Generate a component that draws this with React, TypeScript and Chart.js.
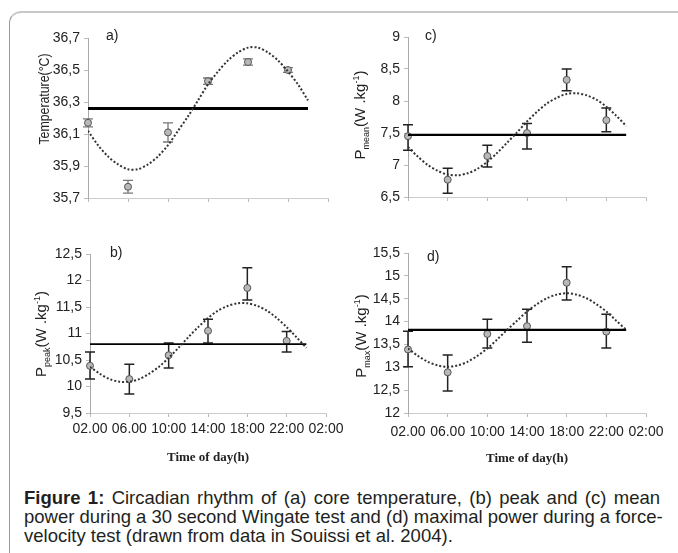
import React, { useEffect, useRef } from 'react';
import { Chart, registerables } from 'chart.js';

Chart.register(...registerables);

const SANS = '"Liberation Sans", Arial, sans-serif';
const SERIF = '"Liberation Serif", "Times New Roman", serif';

// ---------- shared x data ----------
const HOURS = [2, 6, 10, 14, 18, 22];
const X_TICKS = [2, 6, 10, 14, 18, 22, 26];
const X_TICK_LABELS = ['02.00', '06.00', '10:00', '14:00', '18:00', '22:00', '02:00'];
const FIT_HOURS = [2, 3, 4, 5, 6, 7, 8, 9, 10, 11, 12, 13, 14, 15, 16, 17, 18, 19, 20, 21, 22, 23, 24];
const MESOR_HOURS = [2, 24];

// ---------- a) core temperature ----------
const tempValues = [36.17, 35.77, 36.11, 36.43, 36.55, 36.5];
const tempErrUp = [0.025, 0.04, 0.06, 0.02, 0.02, 0.015];
const tempErrDown = [0.025, 0.04, 0.06, 0.02, 0.02, 0.015];
const tempMesor = 36.26;
const tempFit = [36.12, 36.03, 35.96, 35.91, 35.88, 35.88, 35.91, 35.96, 36.03, 36.12, 36.21, 36.31, 36.41, 36.49, 36.56, 36.61, 36.64, 36.64, 36.61, 36.56, 36.49, 36.41, 36.31];
const tempTicks = [35.7, 35.9, 36.1, 36.3, 36.5, 36.7];

// ---------- b) peak power ----------
const peakValues = [10.39, 10.14, 10.59, 11.05, 11.86, 10.86];
const peakErrUp = [0.26, 0.28, 0.23, 0.22, 0.38, 0.18];
const peakErrDown = [0.25, 0.28, 0.24, 0.23, 0.23, 0.21];
const peakMesor = 10.8;
const peakFit = [10.37, 10.24, 10.14, 10.09, 10.09, 10.14, 10.24, 10.37, 10.54, 10.73, 10.93, 11.12, 11.29, 11.43, 11.52, 11.57, 11.57, 11.52, 11.43, 11.29, 11.12, 10.93, 10.73];
const peakTicks = [9.5, 10, 10.5, 11, 11.5, 12, 12.5];

// ---------- c) mean power ----------
const meanValues = [7.45, 6.77, 7.14, 7.5, 8.33, 7.7];
const meanErrUp = [0.18, 0.18, 0.17, 0.15, 0.17, 0.19];
const meanErrDown = [0.22, 0.21, 0.17, 0.25, 0.17, 0.18];
const meanMesor = 7.47;
const meanFit = [7.28, 7.13, 7.0, 6.91, 6.85, 6.84, 6.87, 6.94, 7.05, 7.19, 7.35, 7.51, 7.68, 7.83, 7.96, 8.05, 8.11, 8.12, 8.09, 8.02, 7.91, 7.77, 7.61];
const meanTicks = [6.5, 7, 7.5, 8, 8.5, 9];

// ---------- d) maximal power ----------
const maxValues = [13.39, 12.89, 13.73, 13.9, 14.85, 13.78];
const maxErrUp = [0.4, 0.38, 0.32, 0.37, 0.35, 0.38];
const maxErrDown = [0.38, 0.41, 0.31, 0.35, 0.38, 0.36];
const maxMesor = 13.82;
const maxFit = [13.41, 13.25, 13.12, 13.04, 13.01, 13.04, 13.12, 13.25, 13.41, 13.61, 13.82, 14.02, 14.22, 14.38, 14.51, 14.59, 14.62, 14.59, 14.51, 14.38, 14.22, 14.02, 13.82];
const maxTicks = [12, 12.5, 13, 13.5, 14, 14.5, 15, 15.5];

type Seg = { text: string; size: number; dy: number };

type PanelSpec = {
  box: { left: number; top: number; width: number; height: number };
  area: { left: number; right: number; top: number; bottom: number };
  values: number[];
  errUp: number[];
  errDown: number[];
  mesor: number;
  fit: number[];
  ticks: number[];
  showX: boolean;
  xLabelPad: number;
  titlePadBottom: number;
  mesorWidth: number;
  errColor: string;
  errWidth: number;
  letter: string;
  letterPos: [number, number];
  yTitle: Seg[];
  yTitlePos: [number, number];
  yTitleStretch: number;
};

function drawRich(ctx: CanvasRenderingContext2D, segs: Seg[], cx: number, cy: number, stretch: number) {
  ctx.save();
  ctx.translate(cx, cy);
  ctx.rotate(-Math.PI / 2);
  ctx.scale(stretch, 1);
  let total = 0;
  segs.forEach((s) => {
    ctx.font = `${s.size}px ${SANS}`;
    total += ctx.measureText(s.text).width;
  });
  let x = -total / 2;
  ctx.textBaseline = 'alphabetic';
  ctx.textAlign = 'left';
  ctx.fillStyle = '#222';
  segs.forEach((s) => {
    ctx.font = `${s.size}px ${SANS}`;
    ctx.fillText(s.text, x, 5 + s.dy);
    x += ctx.measureText(s.text).width;
  });
  ctx.restore();
}

function Panel({ spec }: { spec: PanelSpec }) {
  const ref = useRef<HTMLCanvasElement | null>(null);
  useEffect(() => {
    const s = spec;
    const { box, area } = s;
    const pts = HOURS.map((h, i) => ({ x: h, y: s.values[i] }));
    const extras = {
      id: 'extras',
      beforeDatasetsDraw(chart: any) {
        const ctx = chart.ctx as CanvasRenderingContext2D;
        const xs = chart.scales.x;
        const ys = chart.scales.y;
        ctx.save();
        ctx.strokeStyle = s.errColor;
        ctx.lineWidth = s.errWidth;
        HOURS.forEach((h, i) => {
          const px = xs.getPixelForValue(h);
          const yt = ys.getPixelForValue(s.values[i] + s.errUp[i]);
          const yb = ys.getPixelForValue(s.values[i] - s.errDown[i]);
          ctx.beginPath();
          ctx.moveTo(px, yt);
          ctx.lineTo(px, yb);
          ctx.moveTo(px - 5, yt);
          ctx.lineTo(px + 5, yt);
          ctx.moveTo(px - 5, yb);
          ctx.lineTo(px + 5, yb);
          ctx.stroke();
        });
        ctx.restore();
      },
      afterDraw(chart: any) {
        const ctx = chart.ctx as CanvasRenderingContext2D;
        ctx.save();
        ctx.font = `14px ${SANS}`;
        ctx.fillStyle = '#222';
        ctx.textBaseline = 'middle';
        ctx.textAlign = 'left';
        ctx.fillText(s.letter, s.letterPos[0] - box.left, s.letterPos[1] - box.top);
        ctx.restore();
        drawRich(ctx, s.yTitle, s.yTitlePos[0] - box.left, s.yTitlePos[1] - box.top, s.yTitleStretch);
      },
    };
    const chart = new Chart(ref.current as HTMLCanvasElement, {
      type: 'line',
      data: {
        datasets: [
          {
            data: FIT_HOURS.map((h, i) => ({ x: h, y: s.fit[i] })),
            borderColor: '#333',
            borderWidth: 2,
            borderDash: [2, 2],
            pointRadius: 0,
            tension: 0.3,
          },
          {
            data: MESOR_HOURS.map((h) => ({ x: h, y: s.mesor })),
            borderColor: '#000',
            borderWidth: s.mesorWidth,
            pointRadius: 0,
          },
          {
            data: pts,
            showLine: false,
            pointStyle: 'circle',
            pointRadius: 3.5,
            backgroundColor: '#b8b8b8',
            borderColor: '#555',
            borderWidth: 1,
            clip: false,
          },
          {
            data: pts,
            showLine: false,
            pointStyle: 'star',
            pointRadius: 3,
            borderColor: '#555',
            borderWidth: 1,
            clip: false,
          },
        ],
      } as any,
      options: {
        animation: false,
        responsive: false,
        maintainAspectRatio: false,
        layout: { padding: { left: 0, top: area.top, right: box.width - area.right, bottom: 0 } },
        plugins: { legend: { display: false }, tooltip: { enabled: false } },
        scales: {
          x: {
            type: 'linear',
            min: 2,
            max: 26,
            afterBuildTicks: (sc: any) => {
              sc.ticks = X_TICKS.map((v) => ({ value: v }));
            },
            afterFit: (sc: any) => {
              sc.height = box.height - area.bottom;
            },
            grid: { display: true, drawOnChartArea: false, drawTicks: true, tickLength: 4, color: '#bbb' },
            border: { display: true, color: '#ccc', width: 1 },
            ticks: {
              display: s.showX,
              padding: s.xLabelPad,
              autoSkip: false,
              maxRotation: 0,
              color: '#222',
              font: { family: SANS, size: 14 },
              callback: (v: any) => X_TICK_LABELS[X_TICKS.indexOf(Number(v))],
            },
            title: {
              display: s.showX,
              text: 'Time of day(h)',
              color: '#222',
              font: { family: SERIF, size: 13, weight: 'bold' },
              padding: { top: 0, bottom: s.titlePadBottom },
            },
          },
          y: {
            type: 'linear',
            min: s.ticks[0],
            max: s.ticks[s.ticks.length - 1],
            afterBuildTicks: (sc: any) => {
              sc.ticks = s.ticks.map((v) => ({ value: v }));
            },
            afterFit: (sc: any) => {
              sc.width = area.left;
            },
            grid: { display: true, drawOnChartArea: false, drawTicks: true, tickLength: 4, color: '#bbb' },
            border: { display: true, color: '#aaa', width: 1 },
            ticks: {
              padding: 4,
              color: '#222',
              font: { family: SANS, size: 14 },
              callback: (v: any) => String(v).replace('.', ','),
            },
          },
        },
      } as any,
      plugins: [extras],
    });
    return () => chart.destroy();
  }, [spec]);
  const { box } = spec;
  return (
    <canvas
      ref={ref}
      width={box.width}
      height={box.height}
      style={{ position: 'absolute', left: box.left, top: box.top, width: box.width, height: box.height }}
    />
  );
}

const specA: PanelSpec = {
  box: { left: 0, top: 20, width: 340, height: 200 },
  area: { left: 88, right: 328, top: 18, bottom: 178 },
  values: tempValues, errUp: tempErrUp, errDown: tempErrDown, mesor: tempMesor, fit: tempFit, ticks: tempTicks,
  showX: false, xLabelPad: 3, titlePadBottom: 5, mesorWidth: 3, errColor: '#777', errWidth: 1.3,
  letter: 'a)', letterPos: [106, 36],
  yTitle: [{ text: 'Temperature(°C)', size: 14.5, dy: 0 }],
  yTitlePos: [44, 99],
  yTitleStretch: 0.85,
};

const specB: PanelSpec = {
  box: { left: 0, top: 220, width: 360, height: 250 },
  area: { left: 90, right: 326, top: 34, bottom: 193 },
  values: peakValues, errUp: peakErrUp, errDown: peakErrDown, mesor: peakMesor, fit: peakFit, ticks: peakTicks,
  showX: true, xLabelPad: 4, titlePadBottom: 5, mesorWidth: 1.6, errColor: '#222', errWidth: 1.5,
  letter: 'b)', letterPos: [110, 253],
  yTitle: [
    { text: 'P', size: 15, dy: 0 },
    { text: 'peak', size: 9, dy: 4 },
    { text: '(W .kg', size: 15, dy: 0 },
    { text: '-1', size: 9, dy: -6 },
    { text: ')', size: 15, dy: 0 },
  ],
  yTitlePos: [41, 334],
  yTitleStretch: 1,
};

const specC: PanelSpec = {
  box: { left: 340, top: 20, width: 338, height: 200 },
  area: { left: 68, right: 306, top: 17, bottom: 177 },
  values: meanValues, errUp: meanErrUp, errDown: meanErrDown, mesor: meanMesor, fit: meanFit, ticks: meanTicks,
  showX: false, xLabelPad: 3, titlePadBottom: 5, mesorWidth: 2.2, errColor: '#222', errWidth: 1.5,
  letter: 'c)', letterPos: [425, 36],
  yTitle: [
    { text: 'P', size: 15, dy: 0 },
    { text: 'mean', size: 9, dy: 4 },
    { text: '(W .kg', size: 15, dy: 0 },
    { text: '-1', size: 9, dy: -6 },
    { text: ')', size: 15, dy: 0 },
  ],
  yTitlePos: [360, 115],
  yTitleStretch: 1,
};

const specD: PanelSpec = {
  box: { left: 340, top: 220, width: 338, height: 250 },
  area: { left: 68, right: 306, top: 33, bottom: 193 },
  values: maxValues, errUp: maxErrUp, errDown: maxErrDown, mesor: maxMesor, fit: maxFit, ticks: maxTicks,
  showX: true, xLabelPad: 7, titlePadBottom: 4, mesorWidth: 2.2, errColor: '#222', errWidth: 1.5,
  letter: 'd)', letterPos: [427, 257],
  yTitle: [
    { text: 'P', size: 15, dy: 0 },
    { text: 'max', size: 9, dy: 4 },
    { text: '(W .kg', size: 15, dy: 0 },
    { text: '-1', size: 9, dy: -6 },
    { text: ')', size: 15, dy: 0 },
  ],
  yTitlePos: [361, 336],
  yTitleStretch: 1,
};

const lineStyle: React.CSSProperties = {
  position: 'absolute',
  left: 24,
  width: 636,
  height: 19,
  lineHeight: '19px',
  fontFamily: SANS,
  fontSize: 18.5,
  color: '#231f20',
  whiteSpace: 'nowrap',
};

export default function App() {
  return (
    <div style={{ position: 'absolute', left: 0, top: 0, width: 678, height: 553, overflow: 'hidden', background: '#fff' }}>
      <div
        style={{
          position: 'absolute',
          left: 9,
          top: 11,
          width: 720,
          height: 620,
          borderLeft: '1px solid #9a9a9a',
          borderTop: '2px solid #c8c8c8',
          borderTopLeftRadius: 12,
        }}
      />
      <Panel spec={specA} />
      <Panel spec={specB} />
      <Panel spec={specC} />
      <Panel spec={specD} />
      <div style={{ ...lineStyle, top: 488, textAlign: 'justify', textAlignLast: 'justify' }}>
        <b>Figure 1:</b> Circadian rhythm of (a) core temperature, (b) peak and (c) mean
      </div>
      <div style={{ ...lineStyle, top: 507, textAlign: 'justify', textAlignLast: 'justify' }}>
        power during a 30 second Wingate test and (d) maximal power during a force-
      </div>
      <div style={{ ...lineStyle, top: 526, textAlign: 'left' }}>
        velocity test (drawn from data in Souissi et al. 2004).
      </div>
    </div>
  );
}
